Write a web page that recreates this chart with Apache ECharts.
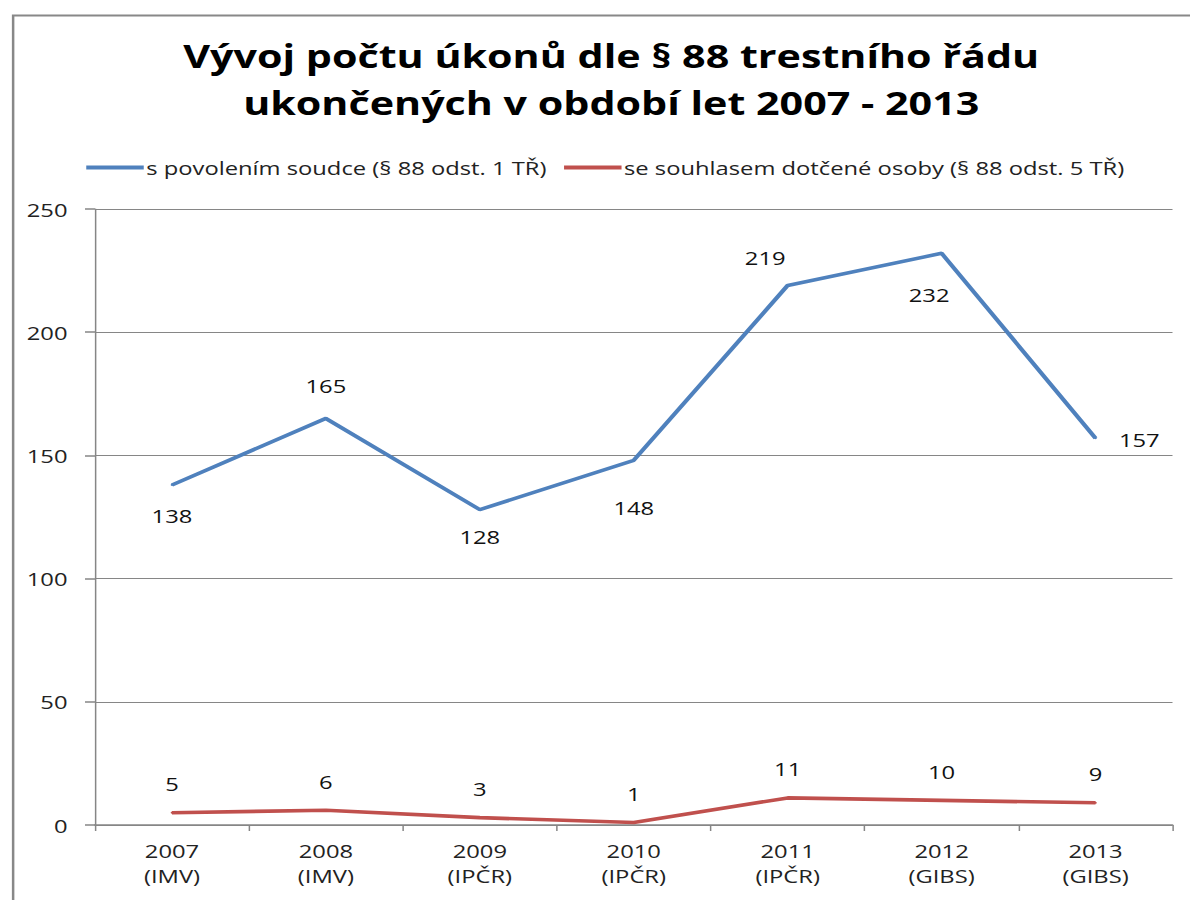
<!DOCTYPE html>
<html>
<head>
<meta charset="utf-8">
<script src="https://cdn.jsdelivr.net/npm/echarts@6/dist/echarts.min.js"></script>
<style>
  html, body { margin: 0; padding: 0; background: #fff; overflow: hidden; }
  /* the original picture is stretched sideways, so the chart is drawn narrower and widened */
  #chart { width: 952px; height: 900px; transform: scaleX(1.25); transform-origin: 0 0; }
</style>
</head>
<body>
<div id="chart"></div>
<script>
  const years = ['2007\n(IMV)', '2008\n(IMV)', '2009\n(IPČR)', '2010\n(IPČR)', '2011\n(IPČR)', '2012\n(GIBS)', '2013\n(GIBS)'];
  const judgeValues = [138, 165, 128, 148, 219, 232, 157];
  const consentValues = [5, 6, 3, 1, 11, 10, 9];
  const seriesNames = ['s povolením soudce (§ 88 odst. 1 TŘ)', 'se souhlasem dotčené osoby (§ 88 odst. 5 TŘ)'];

  const font = 'Open Sans';
  const gray = '#868686';
  // where the blue line's numbers sit, [dx, dy] from the point
  const judgeOffsets = [[0, 31], [0, -33], [0, 27], [0, 47], [-18, -28], [-10, 41], [35, 1]];

  const myChart = echarts.init(document.getElementById('chart'), null, { renderer: 'svg' });
  const option = {
    backgroundColor: '#fff',
    animation: false,
    textStyle: { fontFamily: font },
    title: {
      text: 'Vývoj počtu úkonů dle § 88 trestního řádu\nukončených v období let 2007 - 2013',
      left: 484,
      top: 27,
      textAlign: 'center',
      textStyle: { fontFamily: font, fontSize: 33, fontWeight: 'bold', color: '#000', lineHeight: 47 }
    },
    legend: {
      top: 153,
      left: 64,
      itemWidth: 46,
      itemHeight: 4,
      itemGap: 14,
      icon: 'rect',
      textStyle: { fontFamily: font, fontSize: 19, color: '#222', padding: [0, 0, 0, -3] },
      data: seriesNames
    },
    grid: { left: 76, right: 14, top: 209, bottom: 75, containLabel: false },
    xAxis: {
      type: 'category',
      data: years,
      boundaryGap: true,
      axisLine: { lineStyle: { color: gray, width: 1.5 } },
      axisTick: { show: true, length: 6, lineStyle: { color: gray, width: 1.2 } },
      axisLabel: { fontFamily: font, fontSize: 19, color: '#222', lineHeight: 25, margin: 13 }
    },
    yAxis: {
      type: 'value',
      min: 0,
      max: 250,
      interval: 50,
      axisLine: { show: true, lineStyle: { color: gray, width: 1.2 } },
      axisTick: { show: true, length: 8, lineStyle: { color: gray, width: 1.5 } },
      axisLabel: { fontFamily: font, fontSize: 19, color: '#222', margin: 22 },
      splitLine: { lineStyle: { color: gray, width: 1 } }
    },
    series: [
      {
        name: seriesNames[0],
        type: 'line',
        symbol: 'circle',
        symbolSize: 2,
        showSymbol: true,
        color: '#4F81BD',
        lineStyle: { width: 3.6, color: '#4F81BD' },
        data: judgeValues.map((v, i) => ({
          value: v,
          label: { show: true, position: 'inside', offset: judgeOffsets[i] }
        })),
        label: { show: true, fontFamily: font, fontSize: 19, color: '#111' }
      },
      {
        name: seriesNames[1],
        type: 'line',
        symbol: 'circle',
        symbolSize: 2,
        showSymbol: true,
        color: '#C0504D',
        lineStyle: { width: 3.6, color: '#C0504D' },
        data: consentValues,
        label: { show: true, position: 'inside', offset: [0, -29], fontFamily: font, fontSize: 19, color: '#111' }
      }
    ],
    graphic: [
      {
        type: 'rect',
        left: 8,
        top: 13,
        shape: { width: 1000, height: 1000 },
        style: { fill: 'none', stroke: '#888', lineWidth: 2 },
        silent: true,
        z: -1
      }
    ]
  };
  myChart.setOption(option);
</script>
</body>
</html>
